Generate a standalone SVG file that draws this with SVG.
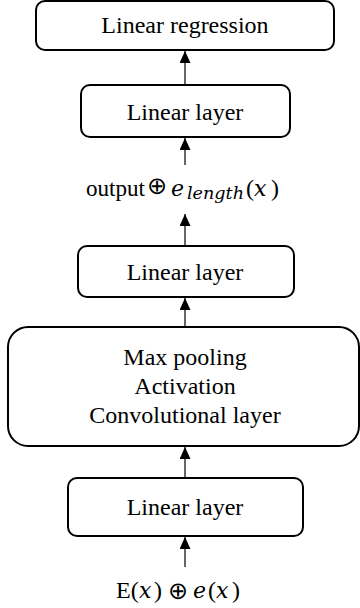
<svg xmlns="http://www.w3.org/2000/svg" width="360" height="608" viewBox="0 0 360 608">
<defs>
<marker id="ah" viewBox="0 0 12 11" refX="12" refY="5.5" markerWidth="12" markerHeight="11" markerUnits="userSpaceOnUse" orient="auto">
<path d="M0,0 L12,5.5 L0,11 Z" fill="#000"/>
</marker>
<style>
.box{fill:#fff;stroke:#000;stroke-width:2}
.lbl{font-family:"Liberation Serif","Times New Roman",serif;font-size:24px;fill:#000;text-anchor:middle}
.m{font-family:"Liberation Serif","Times New Roman",serif;font-size:24px;fill:#000}
.mi{font-family:"DejaVu Serif",serif;font-style:italic;font-size:22px;fill:#000}
.op{font-family:"DejaVu Sans",sans-serif;font-size:24px;fill:#000;text-anchor:middle}
.conn{stroke:#000;stroke-width:1.2;fill:none}
</style>
</defs>
<rect width="360" height="608" fill="#fff"/>
<g id="connectors">
<line class="conn" x1="185" y1="85" x2="185" y2="51" marker-end="url(#ah)"/>
<line class="conn" x1="185" y1="165" x2="185" y2="138" marker-end="url(#ah)"/>
<line class="conn" x1="185" y1="246" x2="185" y2="214" marker-end="url(#ah)"/>
<line class="conn" x1="185" y1="327" x2="185" y2="298" marker-end="url(#ah)"/>
<line class="conn" x1="185" y1="478" x2="185" y2="447" marker-end="url(#ah)"/>
<line class="conn" x1="185" y1="567" x2="185" y2="537" marker-end="url(#ah)"/>
</g>
<g id="linear-regression">
<rect class="box" x="36" y="1" width="298" height="49" rx="9"/>
<text class="lbl" x="185" y="33">Linear regression</text>
</g>
<g id="linear-layer-3">
<rect class="box" x="81" y="85" width="209" height="52" rx="9"/>
<text class="lbl" x="185" y="120">Linear layer</text>
</g>
<g id="output-concat">
<text class="m" x="86" y="196" textLength="59" lengthAdjust="spacingAndGlyphs">output</text>
<text class="op" x="157" y="194">⊕</text>
<text class="mi" x="171" y="196">e</text>
<text class="mi" x="187" y="199" style="font-size:17.5px" textLength="57" lengthAdjust="spacingAndGlyphs">length</text>
<text class="m" x="246" y="196">(</text>
<text class="mi" x="254" y="196">x</text>
<text class="m" x="271" y="196">)</text>
</g>
<g id="linear-layer-2">
<rect class="box" x="78" y="246" width="216" height="51" rx="9"/>
<text class="lbl" x="185" y="280">Linear layer</text>
</g>
<g id="conv-block">
<rect class="box" x="8" y="327" width="351" height="119" rx="20"/>
<text class="lbl" x="185" y="365">Max pooling</text>
<text class="lbl" x="185" y="394">Activation</text>
<text class="lbl" x="185" y="423">Convolutional layer</text>
</g>
<g id="linear-layer-1">
<rect class="box" x="68" y="478" width="235" height="58" rx="9"/>
<text class="lbl" x="185" y="515">Linear layer</text>
</g>
<g id="input">
<text class="m" x="116" y="598">E(</text>
<text class="mi" x="139" y="598">x</text>
<text class="m" x="154" y="598">)</text>
<text class="op" x="178" y="599">⊕</text>
<text class="mi" x="193" y="598">e</text>
<text class="m" x="208" y="598">(</text>
<text class="mi" x="216" y="598">x</text>
<text class="m" x="232" y="598">)</text>
</g>
</svg>
